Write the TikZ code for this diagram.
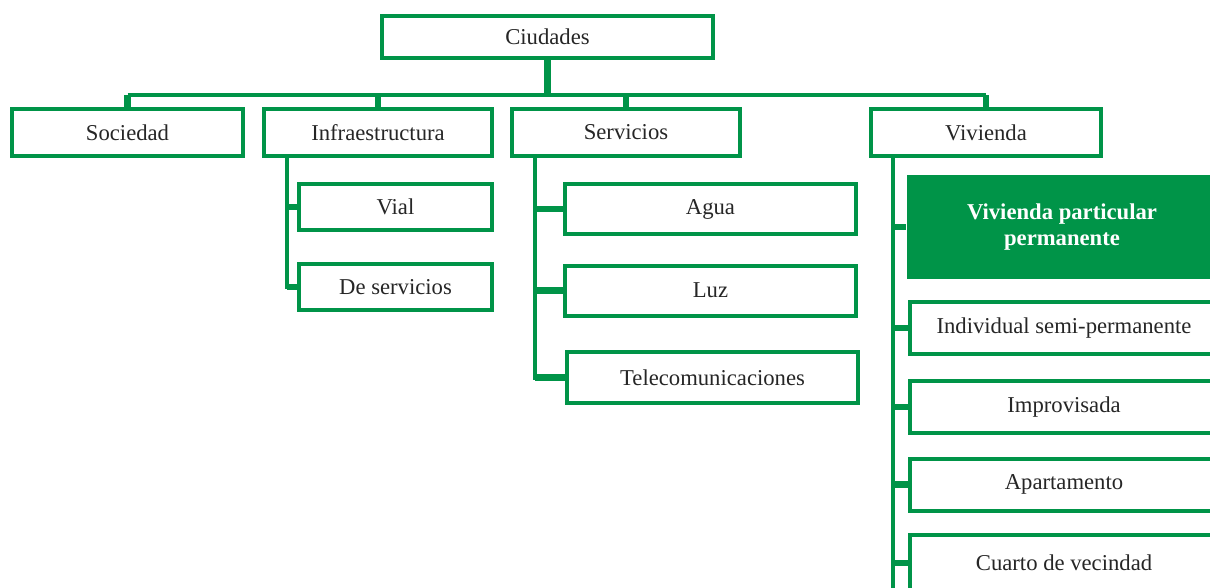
\documentclass[tikz,border=0pt]{standalone}
\usepackage{fontspec}
\setmainfont{Liberation Serif}
\definecolor{cdgreen}{RGB}{0,148,72}
\tikzset{
  box/.style={draw=cdgreen, line width=3pt, fill=white, rectangle, inner sep=0pt,
    text=black!85, font=\fontsize{17}{20}\selectfont},
  darkbox/.style={fill=cdgreen, text=white, rectangle, inner sep=0pt, align=center,
    font=\fontsize{17}{20}\selectfont\bfseries},
  bar/.style={cdgreen, line width=3pt},
  stub/.style={cdgreen, line width=5pt},
  trunk/.style={cdgreen, line width=5.5pt}
}
\begin{document}
\begin{tikzpicture}[x=0.75pt, y=-0.75pt]
\useasboundingbox (0,0) rectangle (1210,587);

% Top level
\node[box, minimum width=248pt, minimum height=31.5pt] (ciudades) at (547.5,37) {Ciudades};

% Second row
\node[box, minimum width=173pt, minimum height=35pt] (sociedad) at (127.5,132.5) {Sociedad};
\node[box, minimum width=171pt, minimum height=35pt] (infra) at (378,132.5) {Infraestructura};
\node[box, minimum width=171pt, minimum height=35pt] (servicios) at (626,132.5) {Servicios};
\node[box, minimum width=172.5pt, minimum height=35pt] (vivienda) at (986,132.5) {Vivienda};

% Bus between Ciudades and second row
\coordinate (bus) at (547.5,95);
\draw[trunk] (ciudades.south) -- (bus);
\draw[bar] (sociedad.north |- bus) -- (vivienda.north |- bus);
\foreach \n in {sociedad,infra,servicios,vivienda}
  \draw[stub] (\n.north) -- (\n.north |- bus);

% Infraestructura
\node[box, minimum width=145pt, minimum height=34.5pt] (vial) at (395.5,207) {Vial};
\node[box, minimum width=145pt, minimum height=34.5pt] (deserv) at (395.5,287) {De servicios};
\coordinate (infraroot) at (287,158);
\draw[bar] (infraroot) |- (deserv.west);
\foreach \n in {vial,deserv}
  \draw[stub] (infraroot |- \n.west) -- (\n.west);

% Servicios
\node[box, minimum width=218pt, minimum height=37.5pt] (agua) at (710.5,209) {Agua};
\node[box, minimum width=218pt, minimum height=37.5pt] (luz) at (710.5,290.5) {Luz};
\node[box, minimum width=218pt, minimum height=38pt] (telecom) at (712.5,377.5) {Telecomunicaciones};
\coordinate (servroot) at (535,158);
\draw[bar] (servroot) |- (telecom.west);
\foreach \n in {agua,luz,telecom}
  \draw[stub] (servroot |- \n.west) -- (\n.west);

% Vivienda
\node[darkbox, minimum width=233pt, minimum height=78pt] (vpp) at (1062,227) {Vivienda particular\\permanente};
\node[box, minimum width=231pt, minimum height=39pt] (semi) at (1064,328) {Individual semi-permanente};
\node[box, minimum width=231pt, minimum height=39pt] (improv) at (1064,407) {Improvisada};
\node[box, minimum width=231pt, minimum height=39pt] (apto) at (1064,484.5) {Apartamento};
\node[box, minimum width=231pt, minimum height=42pt] (cuarto) at (1064,563) {Cuarto de vecindad};
\coordinate (vivroot) at (893,158);
\coordinate (vivend) at (893,600);
\draw[bar] (vivroot) -- (vivend);
\foreach \n in {vpp,semi,improv,apto,cuarto}
  \draw[stub] (vivroot |- \n.west) -- (\n.west);
\end{tikzpicture}
\end{document}
